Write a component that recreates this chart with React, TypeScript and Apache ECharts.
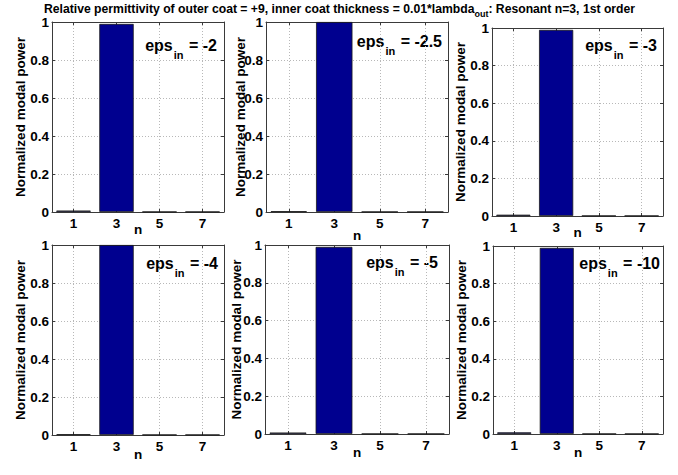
import React, { useEffect, useRef } from 'react';
import * as echarts from 'echarts';

// Mode index n on the x axis
const categories = ['1', '3', '5', '7'];

// Normalized modal power per mode, one array per inner permittivity
const powerEpsM2 = [0.008, 0.99, 0.001, 0.001];
const powerEpsM25 = [0.004, 1.0, 0.001, 0.001];
const powerEpsM3 = [0.007, 0.99, 0.001, 0.001];
const powerEpsM4 = [0.004, 1.0, 0.001, 0.001];
const powerEpsM5 = [0.008, 0.99, 0.001, 0.001];
const powerEpsM10 = [0.009, 0.99, 0.001, 0.001];

const epsLabels = ['-2', '-2.5', '-3', '-4', '-5', '-10'];
const panelData = [powerEpsM2, powerEpsM25, powerEpsM3, powerEpsM4, powerEpsM5, powerEpsM10];

const titleMain = 'Relative permittivity of outer coat = +9, inner coat thickness = 0.01*lambda';
const titleSub = 'out';
const titleTail = ': Resonant n=3, 1st order';
const yName = 'Normalized modal power';
const xName = 'n';

// layout (pixels)
const layout = [
  { l: 52, t: 22, w: 172, h: 190, nameGap: 25, xNameGap: 10, epsRight: 217, epsCenter: 45 },
  { l: 266, t: 22, w: 182, h: 190, nameGap: 18.5, xNameGap: 16, epsRight: 442, epsCenter: 41 },
  { l: 492, t: 28, w: 171, h: 188, nameGap: 25, xNameGap: 9, epsRight: 657, epsCenter: 45 },
  { l: 52, t: 245, w: 172, h: 190, nameGap: 25, xNameGap: 12, epsRight: 218, epsCenter: 263 },
  { l: 265, t: 245, w: 184, h: 189, nameGap: 22, xNameGap: 11, epsRight: 438, epsCenter: 262 },
  { l: 493, t: 246, w: 170, h: 188, nameGap: 25, xNameGap: 11, epsRight: 660, epsCenter: 263 },
];

const FONT = '"Liberation Sans", Arial, sans-serif';
const AXIS_COLOR = '#3a3a3a';
const GRID_COLOR = '#b8b8b8';

let measureCtx: CanvasRenderingContext2D | null = null;
function textWidth(text: string, size: number): number {
  if (!measureCtx) measureCtx = document.createElement('canvas').getContext('2d');
  if (!measureCtx) return text.length * size * 0.55;
  measureCtx.font = `bold ${size}px ${FONT}`;
  return measureCtx.measureText(text).width;
}

function textEl(text: string, x: number, y: number, size: number, align: string) {
  return {
    type: 'text', x, y, silent: true,
    style: {
      text, fill: '#000',
      font: `bold ${size}px ${FONT}`,
      align, verticalAlign: 'middle',
      textAlign: align, textVerticalAlign: 'middle',
    },
  };
}

export default function App() {
  const ref = useRef<HTMLDivElement>(null);
  useEffect(() => {
    const chart = echarts.init(ref.current as HTMLDivElement, null, { renderer: 'svg' });
    const grids: any[] = [];
    const xAxes: any[] = [];
    const yAxes: any[] = [];
    const series: any[] = [];
    const graphics: any[] = [];
    const labelStyle = { color: '#000', fontWeight: 'bold', fontSize: 13.5, fontFamily: FONT };
    const nameStyle = { color: '#000', fontWeight: 'bold', fontSize: 13.5, fontFamily: FONT };

    layout.forEach((p, i) => {
      grids.push({ left: p.l, top: p.t, width: p.w, height: p.h, containLabel: false });
      xAxes.push({
        type: 'category', gridIndex: i, data: categories, position: 'bottom',
        axisLine: { show: true, onZero: false, lineStyle: { color: AXIS_COLOR, width: 1 } },
        axisTick: { show: true, inside: true, alignWithLabel: true, length: 3, lineStyle: { color: AXIS_COLOR } },
        axisLabel: { ...labelStyle, margin: 4 },
        splitLine: { show: true, alignWithLabel: true, lineStyle: { color: GRID_COLOR, type: [1, 2], width: 1 } },
        name: xName, nameLocation: 'middle', nameGap: p.xNameGap, nameMoveOverlap: false,
        nameTextStyle: { ...nameStyle },
      });
      xAxes.push({
        type: 'category', gridIndex: i, data: categories, position: 'top',
        axisLine: { show: true, onZero: false, lineStyle: { color: AXIS_COLOR, width: 1 } },
        axisTick: { show: true, inside: true, alignWithLabel: true, length: 3, lineStyle: { color: AXIS_COLOR } },
        axisLabel: { show: false },
        splitLine: { show: false },
      });
      yAxes.push({
        type: 'value', gridIndex: i, min: 0, max: 1, interval: 0.2, position: 'left',
        axisLine: { show: true, onZero: false, lineStyle: { color: AXIS_COLOR, width: 1 } },
        axisTick: { show: true, inside: true, length: 3, lineStyle: { color: AXIS_COLOR } },
        axisLabel: { ...labelStyle, margin: 3 },
        splitLine: { show: true, lineStyle: { color: GRID_COLOR, type: [1, 2], width: 1 } },
        name: yName, nameLocation: 'middle', nameGap: p.nameGap, nameRotate: 90, nameMoveOverlap: false,
        nameTextStyle: { ...nameStyle },
      });
      yAxes.push({
        type: 'value', gridIndex: i, min: 0, max: 1, interval: 0.2, position: 'right',
        axisLine: { show: true, onZero: false, lineStyle: { color: AXIS_COLOR, width: 1 } },
        axisTick: { show: true, inside: true, length: 3, lineStyle: { color: AXIS_COLOR } },
        axisLabel: { show: false },
        splitLine: { show: false },
      });
      series.push({
        type: 'bar', xAxisIndex: 2 * i, yAxisIndex: 2 * i,
        data: panelData[i], barWidth: '80%',
        itemStyle: { color: '#00008F', borderColor: '#1a1a1a', borderWidth: 0.8 },
        silent: true,
      });

      // eps_in = value label, built from three pieces
      const tail = ` = ${epsLabels[i]}`;
      const wTail = textWidth(tail, 16);
      const wSub = textWidth('in', 11);
      graphics.push(textEl(tail, p.epsRight, p.epsCenter, 16, 'right'));
      graphics.push(textEl('in', p.epsRight - wTail - 1, p.epsCenter + 9.5, 11, 'right'));
      graphics.push(textEl('eps', p.epsRight - wTail - wSub - 2, p.epsCenter, 16, 'right'));
    });

    // Title with subscript
    const tSize = 12.2;
    const w1 = textWidth(titleMain, tSize);
    const w2 = textWidth(titleSub, 9);
    const w3 = textWidth(titleTail, tSize);
    const startX = 339.5 - (w1 + w2 + w3) / 2;
    graphics.push(textEl(titleMain, startX, 9, tSize, 'left'));
    graphics.push(textEl(titleSub, startX + w1, 14, 9, 'left'));
    graphics.push(textEl(titleTail, startX + w1 + w2, 9, tSize, 'left'));

    chart.setOption({
      animation: false,
      backgroundColor: '#fff',
      grid: grids,
      xAxis: xAxes,
      yAxis: yAxes,
      series,
      graphic: graphics,
    });
    return () => chart.dispose();
  }, []);
  return (
    <div
      ref={ref}
      style={{ position: 'absolute', left: 0, top: 0, width: 678, height: 475, background: '#fff' }}
    />
  );
}
